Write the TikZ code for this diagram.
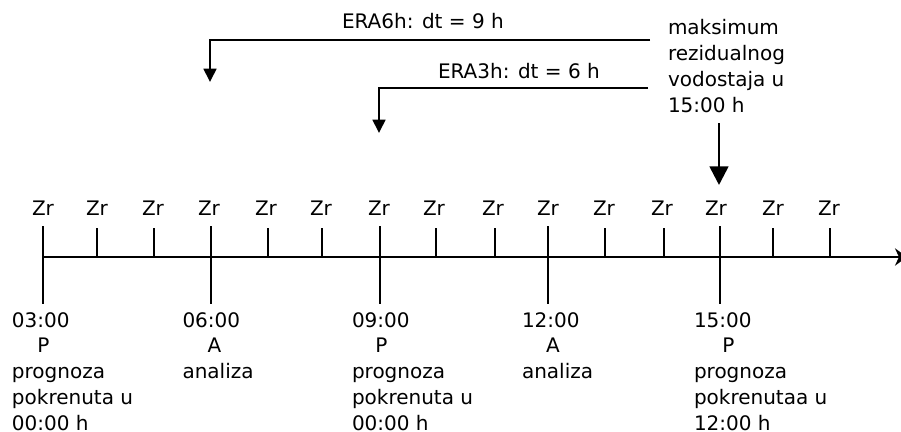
\documentclass[tikz,border=0pt]{standalone}
\usepackage{fontspec}
\setmainfont{DejaVu Sans}
\usetikzlibrary{arrows.meta}
\begin{document}
\begin{tikzpicture}[x=0.75pt,y=-0.75pt,
  lbl/.style={font=\fontsize{15}{19.3}\selectfont, inner sep=0pt, outer sep=0pt},
  blk/.style={lbl, align=left, anchor=north west},
  ln/.style={line width=2pt},
  axisline/.style={line width=2.2pt, -{Stealth[length=9pt,width=13pt,inset=3pt]}},
  smallarr/.style={ln, -{Triangle[length=10pt,width=9.5pt]}},
  bigarr/.style={ln, -{Triangle[length=14pt,width=14pt]}},
]
\useasboundingbox (0,0) rectangle (901,432);
% time axis
\coordinate (a0) at (43,257);
\coordinate (aend) at (907,257);
\draw[axisline] (a0) -- (aend);
% minor ticks
\foreach \x in {97,154,268,322,436,495,605,664,773,830}
  \draw[ln] (\x,228) -- (\x,257);
% major ticks
\foreach \x in {43,211,380,548,720}
  \draw[ln] (\x,226) -- (\x,304);
% Zr labels
\foreach \x [count=\i] in {43,97,153,209,266,321,379,434,493,548,604,662,716,773,829}
  \node[lbl, anchor=base] (zr\i) at (\x,215) {Zr};
% bottom blocks
\node[blk] (b1) at (12,312.4) {03:00\\\hspace*{1.27em}P\\prognoza\\pokrenuta u\\00:00 h};
\node[blk] (b2) at (182.5,312.4) {06:00\\\hspace*{1.26em}A\\analiza};
\node[blk] (b3) at (352,312.4) {09:00\\\hspace*{1.17em}P\\prognoza\\pokrenuta u\\00:00 h};
\node[blk] (b4) at (522,312.4) {12:00\\\hspace*{1.2em}A\\analiza};
\node[blk] (b5) at (694,312.4) {15:00\\\hspace*{1.42em}P\\prognoza\\pokrenutaa u\\12:00 h};
% top
\node[blk] (max) at (668,19.8) {maksimum\\rezidualnog\\vodostaja u\\15:00 h};
\node[lbl, anchor=base west] (t6) at (342,28) {ERA6h: dt = 9 h};
\node[lbl, anchor=base west] (t3) at (438,79) {ERA3h: dt = 6 h};
\coordinate (e6s) at (650,40);
\coordinate (e6e) at (210,82);
\draw[smallarr] (e6s) -| (e6e);
\coordinate (e3s) at (648,88);
\coordinate (e3e) at (379,133);
\draw[smallarr] (e3s) -| (e3e);
\coordinate (ms) at (719,123);
\coordinate (me) at (719,185);
\draw[bigarr] (ms) -- (me);
\end{tikzpicture}
\end{document}
